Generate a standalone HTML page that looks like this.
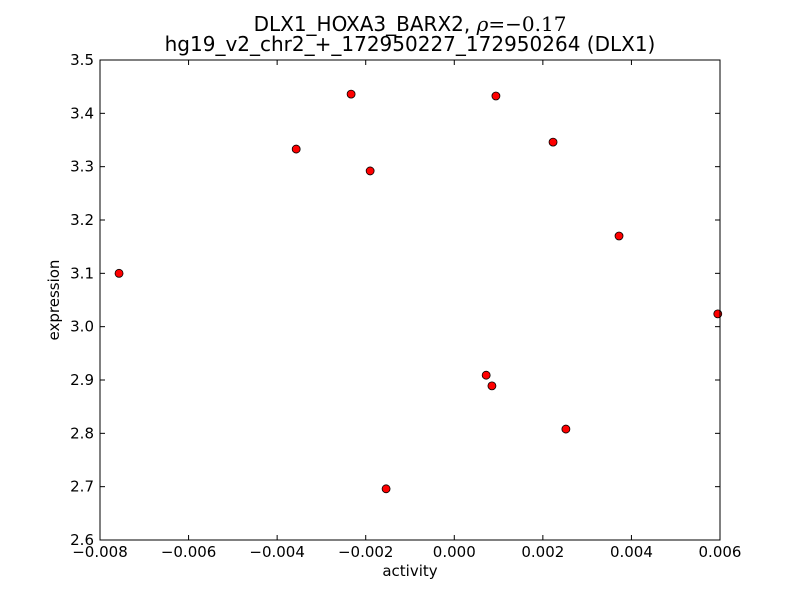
<!DOCTYPE html>
<html><head><meta charset="utf-8"><style>
body{margin:0;background:#fff;}
svg text{font-family:"DejaVu Sans","Liberation Sans",sans-serif;}
</style></head><body>
<svg id="chart" width="800" height="600" xmlns="http://www.w3.org/2000/svg">
<rect width="800" height="600" fill="#fff"/>
<text x="410" y="31" text-anchor="middle" font-size="20">DLX1_HOXA3_BARX2, <tspan font-family="DejaVu Serif,serif" font-style="italic">ρ</tspan><tspan font-family="DejaVu Serif,serif">=−0.17</tspan></text>
<text x="410" y="51" text-anchor="middle" font-size="20">hg19_v2_chr2_+_172950227_172950264 (DLX1)</text>
<text x="410" y="576" text-anchor="middle" font-size="15">activity</text>
<text x="59" y="300" text-anchor="middle" font-size="15" transform="rotate(-90 59 300)">expression</text>
<g id="plot"></g>
</svg>
<script>
const xTicks=[-0.008,-0.006,-0.004,-0.002,0.000,0.002,0.004,0.006];
const xTickLabels=["\u22120.008","\u22120.006","\u22120.004","\u22120.002","0.000","0.002","0.004","0.006"];
const yTicks=[2.6,2.7,2.8,2.9,3.0,3.1,3.2,3.3,3.4,3.5];
const yTickLabels=["2.6","2.7","2.8","2.9","3.0","3.1","3.2","3.3","3.4","3.5"];
const activity=[-0.00757,-0.00357,-0.00233,-0.0019,-0.00154,0.00094,0.00072,0.00085,0.00223,0.00252,0.00372,0.00595];
const expression=[3.100,3.333,3.436,3.292,2.696,3.4325,2.909,2.889,3.346,2.808,3.170,3.024];
const L=100,R=720,T=60,B=540,xmin=-0.008,xmax=0.006,ymin=2.6,ymax=3.5;
const sx=v=>L+(v-xmin)/(xmax-xmin)*(R-L);
const sy=v=>B-(v-ymin)/(ymax-ymin)*(B-T);
const NS="http://www.w3.org/2000/svg";
const g=document.getElementById('plot');
function mk(t,a){const e=document.createElementNS(NS,t);for(const k in a)e.setAttribute(k,a[k]);g.appendChild(e);return e;}
xTicks.forEach((v,i)=>{const x=sx(v);
const t1=mk('line',{x1:x,x2:x,y1:B,y2:B-5,stroke:'#000'});


const t2=mk('line',{x1:x,x2:x,y1:T,y2:T+5,stroke:'#000'});


const tx=mk('text',{x:x,y:B+17,'text-anchor':'middle','font-size':15});tx.textContent=xTickLabels[i];


});
yTicks.forEach((v,i)=>{const y=sy(v);
const t1=mk('line',{x1:L,x2:L+5,y1:y,y2:y,stroke:'#000'});


const t2=mk('line',{x1:R,x2:R-5,y1:y,y2:y,stroke:'#000'});


const tx=mk('text',{x:L-6,y:y+5,'text-anchor':'end','font-size':15});tx.textContent=yTickLabels[i];


});
activity.forEach((v,i)=>{
const c=mk('circle',{cx:sx(v),cy:sy(expression[i]),r:4,fill:'#f00',stroke:'#000','stroke-width':0.8});


});
const fr=mk('rect',{x:L,y:T,width:R-L,height:B-T,fill:'none',stroke:'#000','stroke-width':1});


</script>
</body></html>
